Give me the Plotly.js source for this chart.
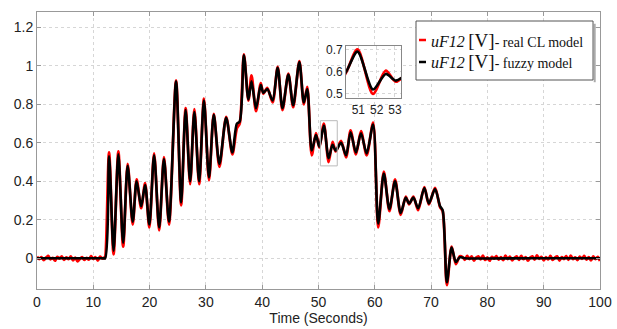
<!DOCTYPE html>
<html>
<head>
<meta charset="utf-8">
<script src="https://cdn.plot.ly/plotly-3.0.1.min.js"></script>
<style>html,body{margin:0;padding:0;background:#fff;}#chart{width:617px;height:329px;}</style>
</head>
<body>
<div id="chart"></div>
<script>
// Fuzzy model output (black) – read at local extrema
const timeFuzzy = [0, 6, 11.6, 12.1, 12.8, 13.6, 14.45, 15.3, 16.1, 17.0, 17.7, 18.5, 19.2, 19.95, 20.8, 21.7, 22.55, 23.45, 24.7, 25.6, 26.4, 27.2, 27.95, 28.8, 29.65, 30.55, 31.4, 32.4, 33.6, 34.7, 35.5, 36.0, 36.75, 37.55, 38.1, 38.9, 39.75, 40.2, 40.9, 41.85, 42.75, 43.6, 44.65, 45.5, 46.6, 47.4, 48.0, 48.8, 49.55, 50.15, 50.95, 51.8, 52.5, 53.05, 54.0, 54.9, 55.7, 56.65, 57.55, 58.55, 59.7, 60.6, 61.6, 62.6, 63.6, 64.6, 65.5, 66.1, 66.85, 67.7, 68.8, 69.6, 70.7, 71.6, 72.05, 72.8, 73.65, 74.4, 75.1, 76.0, 88, 100];
const voltFuzzy = [0, 0, 0, 0, 0.53, 0.04, 0.54, 0.08, 0.48, 0.19, 0.40, 0.27, 0.38, 0.175, 0.535, 0.16, 0.515, 0.19, 0.92, 0.29, 0.77, 0.40, 0.76, 0.40, 0.82, 0.42, 0.745, 0.49, 0.73, 0.55, 0.70, 0.71, 1.055, 0.825, 0.92, 0.78, 0.90, 0.86, 0.88, 0.82, 0.99, 0.78, 0.955, 0.795, 1.02, 0.81, 0.88, 0.56, 0.64, 0.58, 0.69, 0.52, 0.59, 0.56, 0.60, 0.535, 0.655, 0.55, 0.65, 0.545, 0.695, 0.18, 0.44, 0.255, 0.40, 0.235, 0.315, 0.285, 0.315, 0.26, 0.365, 0.285, 0.36, 0.27, 0.25, -0.125, 0.055, -0.02, 0.005, 0, 0, 0];

// Real closed-loop model output (red) – noisy
const timeReal = [0, 0.4, 0.8, 1.2, 1.6, 2.0, 2.4, 2.8, 3.2, 3.6, 4.0, 4.4, 4.8, 5.2, 5.6, 6.0, 6.4, 6.8, 7.2, 7.6, 8.0, 8.4, 8.8, 9.2, 9.6, 10.0, 10.4, 10.8, 11.2, 11.6, 12.0,
  12.1, 12.8, 13.6, 14.45, 15.3, 16.1, 17.0, 17.7, 18.5, 19.2, 19.95, 20.8, 21.7, 22.55, 23.45, 24.7, 25.6, 26.4, 27.2, 27.95, 28.8, 29.65, 30.55, 31.4, 32.4, 33.6, 34.7, 35.5, 36.0, 36.75, 37.55, 38.1, 38.9, 39.75, 40.2, 40.9, 41.85, 42.75, 43.6, 44.65, 45.5, 46.6, 47.4, 48.0, 48.8, 49.55, 50.15, 50.95, 51.8, 52.5, 53.05, 54.0, 54.9, 55.7, 56.65, 57.55, 58.55, 59.7, 60.6, 61.6, 62.6, 63.6, 64.6, 65.5, 66.1, 66.85, 67.7, 68.8, 69.6, 70.7, 71.6, 72.05, 72.8, 73.65, 74.4, 75.1,
  75.6, 76.0, 76.4, 76.8, 77.2, 77.6, 78.0, 78.4, 78.8, 79.2, 79.6, 80.0, 80.4, 80.8, 81.2, 81.6, 82.0, 82.4, 82.8, 83.2, 83.6, 84.0, 84.4, 84.8, 85.2, 85.6, 86.0, 86.4, 86.8, 87.2, 87.6, 88.0, 88.4, 88.8, 89.2, 89.6, 90.0, 90.4, 90.8, 91.2, 91.6, 92.0, 92.4, 92.8, 93.2, 93.6, 94.0, 94.4, 94.8, 95.2, 95.6, 96.0, 96.4, 96.8, 97.2, 97.6, 98.0, 98.4, 98.8, 99.2, 99.6, 100.0];
const voltReal = [0.008, -0.004, 0.006, -0.01, 0.003, 0.012, -0.006, 0.002, -0.013, 0.007, -0.002, 0.01, -0.008, 0.004, -0.005, 0.009, -0.011, 0.003, -0.016, -0.004, 0.006, -0.009, 0.002, -0.007, 0.011, -0.003, 0.005, -0.012, 0.008, -0.002, 0.004,
  0, 0.55, 0.02, 0.555, 0.06, 0.49, 0.175, 0.41, 0.26, 0.39, 0.16, 0.545, 0.145, 0.525, 0.175, 0.925, 0.275, 0.78, 0.385, 0.775, 0.385, 0.83, 0.405, 0.75, 0.475, 0.735, 0.54, 0.675, 0.70, 1.06, 0.82, 0.95, 0.765, 0.91, 0.855, 0.885, 0.81, 0.995, 0.77, 0.96, 0.785, 1.025, 0.80, 0.89, 0.535, 0.65, 0.575, 0.70, 0.50, 0.605, 0.555, 0.61, 0.525, 0.665, 0.54, 0.66, 0.535, 0.705, 0.16, 0.45, 0.245, 0.41, 0.225, 0.32, 0.28, 0.32, 0.25, 0.37, 0.28, 0.365, 0.265, 0.245, -0.14, 0.06, -0.03, 0.01,
  0.006, -0.008, 0.012, -0.004, 0.009, -0.012, 0.003, 0.01, -0.006, 0.014, -0.009, 0.004, -0.013, 0.007, -0.002, 0.011, -0.007, 0.005, -0.01, 0.013, -0.004, 0.008, -0.011, 0.002, 0.009, -0.008, 0.012, -0.005, 0.006, -0.013, 0.004, 0.01, -0.007, 0.015, -0.003, 0.007, -0.011, 0.005, -0.006, 0.012, -0.009, 0.003, 0.01, -0.012, 0.006, -0.004, 0.011, -0.008, 0.013, -0.005, 0.004, -0.01, 0.008, -0.003, 0.012, -0.007, 0.005, -0.011, 0.009, -0.004, 0.007, -0.014];

const xTicks = [0, 10, 20, 30, 40, 50, 60, 70, 80, 90, 100];
const yTicks = [0, 0.2, 0.4, 0.6, 0.8, 1, 1.2];
const yTickLabels = ['0', '0.2', '0.4', '0.6', '0.8', '1', '1.2'];
const insetXTicks = [51, 52, 53];
const insetYTicks = [0.5, 0.6, 0.7];
const insetXRange = [50.33, 53.33];
const insetYRange = [0.48, 0.715];

const legendLabels = [
  '<span style="font-size:16px"><i>uF12</i></span> <span style="font-size:19px">[V]</span>- real CL model',
  '<span style="font-size:16px"><i>uF12</i></span> <span style="font-size:19px">[V]</span>- fuzzy model'
];
const seriesColors = ['#ff0000', '#000000'];

const traces = [
  {x: timeReal, y: voltReal, type: 'scatter', mode: 'lines', name: 'uF12 [V] - real CL model', showlegend: false,
   line: {color: seriesColors[0], width: 2.8, shape: 'spline', smoothing: 0.8}},
  {x: timeFuzzy, y: voltFuzzy, type: 'scatter', mode: 'lines', name: 'uF12 [V] - fuzzy model', showlegend: false,
   line: {color: seriesColors[1], width: 2.6, shape: 'spline', smoothing: 0.8}},
  {x: timeReal, y: voltReal, type: 'scatter', mode: 'lines', showlegend: false, xaxis: 'x2', yaxis: 'y2',
   line: {color: seriesColors[0], width: 2.8, shape: 'spline', smoothing: 0.8}},
  {x: timeFuzzy, y: voltFuzzy, type: 'scatter', mode: 'lines', showlegend: false, xaxis: 'x2', yaxis: 'y2',
   line: {color: seriesColors[1], width: 2.6, shape: 'spline', smoothing: 0.8}}
];

const gridStyle = {showgrid: true, gridcolor: '#d6d6d6', griddash: 'dot', gridwidth: 1, automargin: false};

// legend box geometry (paper fractions of plot area)
const lgX0 = 0.6732, lgX1 = 0.9876, lgY0 = 0.7545, lgY1 = 0.9675;
const rowY = [0.8989, 0.8195];

const shapes = [
  {type: 'rect', xref: 'x2 domain', yref: 'y2 domain', x0: 0, x1: 1, y0: 0, y1: 1,
   fillcolor: '#ffffff', line: {width: 0}, layer: 'below'},
  {type: 'rect', xref: 'x', yref: 'y', x0: insetXRange[0], x1: insetXRange[1], y0: insetYRange[0], y1: insetYRange[1],
   line: {color: '#bbbbbb', width: 1}, layer: 'above'},
  {type: 'line', xref: 'paper', yref: 'paper', x0: lgX1 + 0.003, x1: lgX1 + 0.003, y0: lgY0 - 0.008, y1: lgY1 - 0.01,
   line: {color: '#aaaaaa', width: 2}, layer: 'above'},
  {type: 'rect', xref: 'paper', yref: 'paper', x0: lgX0, x1: lgX1, y0: lgY0, y1: lgY1,
   fillcolor: '#ffffff', line: {color: '#555555', width: 1}, layer: 'above'}
];
rowY.forEach((yy, i) => {
  shapes.push({type: 'line', xref: 'paper', yref: 'paper', x0: 0.6785, x1: 0.6909, y0: yy, y1: yy,
    line: {color: seriesColors[i], width: 2.5}, layer: 'above'});
});
const annotations = rowY.map((yy, i) => ({
  xref: 'paper', yref: 'paper', x: 0.6955, y: yy, xanchor: 'left', yanchor: 'middle', showarrow: false,
  text: legendLabels[i], font: {family: 'Liberation Serif, Times New Roman, serif', size: 14, color: '#111'}
}));

const layout = {
  width: 617, height: 329,
  margin: {l: 37, r: 17, t: 12, b: 40},
  paper_bgcolor: '#ffffff', plot_bgcolor: '#ffffff',
  font: {family: 'Liberation Sans, Arial, sans-serif', size: 14, color: '#222'},
  showlegend: false,
  xaxis: Object.assign({range: [0, 100], tickvals: xTicks, ticktext: xTicks.map(String),
    showline: true, linecolor: '#999', linewidth: 1, mirror: 'ticks', ticks: 'inside', ticklen: 4, tickcolor: '#999',
    zeroline: false, tickfont: {size: 14, color: '#222'},
    title: {text: 'Time (Seconds)', font: {size: 14, color: '#222'}, standoff: 3}}, gridStyle),
  yaxis: Object.assign({range: [-0.16, 1.28], tickvals: yTicks, ticktext: yTickLabels,
    showline: true, linecolor: '#999', linewidth: 1, mirror: 'ticks', ticks: 'inside', ticklen: 4, tickcolor: '#999',
    zeroline: false, tickfont: {size: 14, color: '#222'}}, gridStyle),
  xaxis2: Object.assign({domain: [0.549, 0.6465], anchor: 'y2', range: insetXRange, tickvals: insetXTicks,
    showline: true, linecolor: '#888', mirror: true, ticks: '', zeroline: false,
    tickfont: {size: 12, color: '#222'}}, gridStyle),
  yaxis2: Object.assign({domain: [0.688, 0.877], anchor: 'x2', range: insetYRange, tickvals: insetYTicks,
    showline: true, linecolor: '#888', mirror: true, ticks: '', zeroline: false,
    tickfont: {size: 12, color: '#222'}}, gridStyle),
  shapes: shapes,
  annotations: annotations
};

Plotly.newPlot('chart', traces, layout, {displayModeBar: false, staticPlot: true});
</script>
</body>
</html>
